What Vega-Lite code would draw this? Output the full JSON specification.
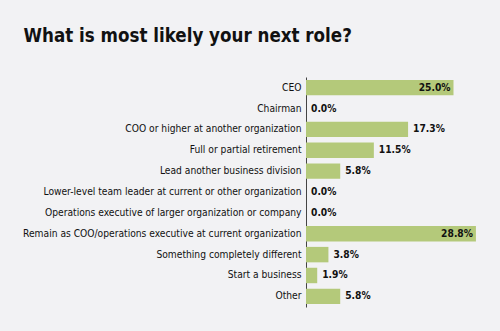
{
  "$schema": "https://vega.github.io/schema/vega-lite/v6.json",
  "autosize": {"type": "none"},
  "width": 177,
  "height": 230,
  "padding": {"left": 306, "top": 77, "right": 17, "bottom": 24},
  "background": "#f2f2f4",
  "title": {
    "text": "What is most likely your next role?",
    "anchor": "start",
    "frame": "bounds",
    "font": "DejaVu Sans Condensed",
    "fontSize": 18.6,
    "fontWeight": "bold",
    "color": "#111111",
    "dx": 1,
    "offset": 31
  },
  "config": {
    "view": {"stroke": null},
    "font": "DejaVu Sans Condensed"
  },
  "data": {
    "values": [
      {"role": "CEO", "pct": 0.250},
      {"role": "Chairman", "pct": 0.0},
      {"role": "COO or higher at another organization", "pct": 0.173},
      {"role": "Full or partial retirement", "pct": 0.115},
      {"role": "Lead another business division", "pct": 0.058},
      {"role": "Lower-level team leader at current or other organization", "pct": 0.0},
      {"role": "Operations executive of larger organization or company", "pct": 0.0},
      {"role": "Remain as COO/operations executive at current organization", "pct": 0.288},
      {"role": "Something completely different", "pct": 0.038},
      {"role": "Start a business", "pct": 0.019},
      {"role": "Other", "pct": 0.058}
    ]
  },
  "encoding": {
    "y": {
      "field": "role",
      "type": "nominal",
      "sort": null,
      "scale": {"paddingInner": 0.26, "paddingOuter": 0.14},
      "axis": {
        "title": null,
        "ticks": false,
        "labelPadding": 5,
        "labelFontSize": 10.2,
        "labelColor": "#111111",
        "labelLimit": 400,
        "domainColor": "#444444",
        "domainWidth": 1
      }
    },
    "x": {
      "field": "pct",
      "type": "quantitative",
      "scale": {"domain": [0, 0.30], "nice": false},
      "axis": null
    }
  },
  "layer": [
    {"mark": {"type": "bar", "color": "#b4c97a"}},
    {
      "transform": [{"filter": "datum.pct < 0.2"}],
      "mark": {"type": "text", "align": "left", "dx": 5, "fontWeight": "bold", "fontSize": 10.2, "color": "#111111"},
      "encoding": {"text": {"field": "pct", "type": "quantitative", "format": ".1%"}}
    },
    {
      "transform": [{"filter": "datum.pct >= 0.2"}],
      "mark": {"type": "text", "align": "right", "dx": -3, "fontWeight": "bold", "fontSize": 10.2, "color": "#111111"},
      "encoding": {"text": {"field": "pct", "type": "quantitative", "format": ".1%"}}
    }
  ]
}
